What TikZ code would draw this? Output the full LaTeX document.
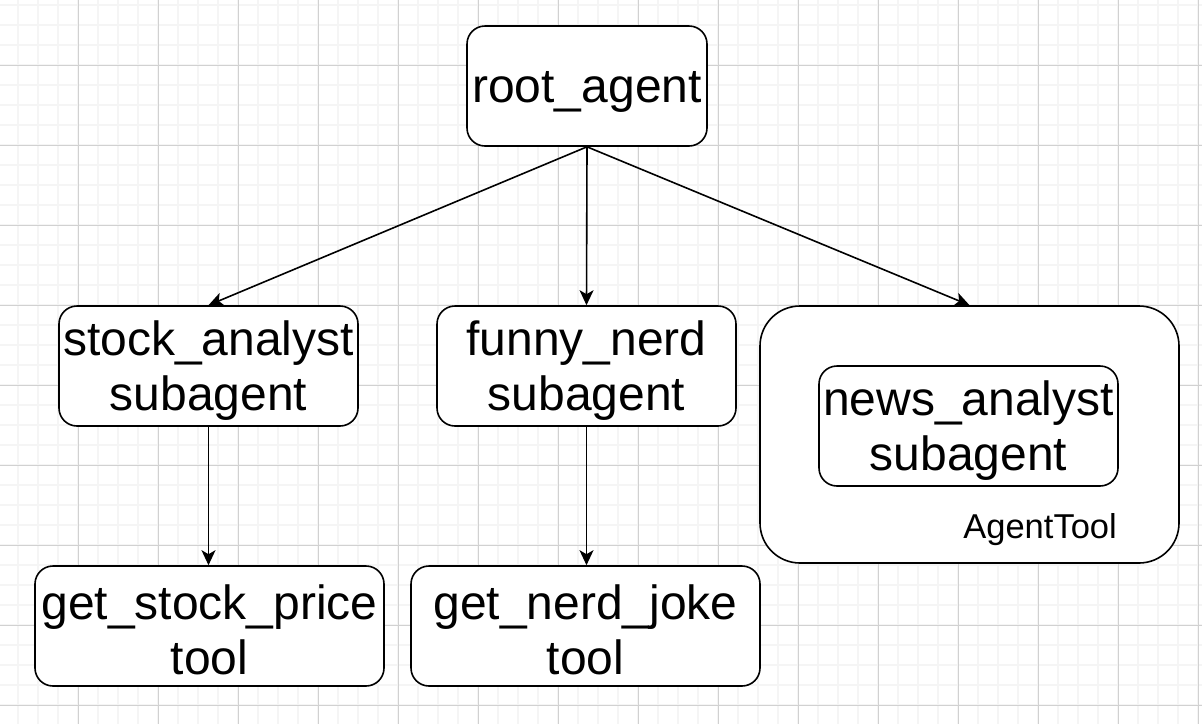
\documentclass[tikz,border=0pt]{standalone}
\usepackage{fontspec}
\setmainfont{Liberation Sans}
\usetikzlibrary{arrows.meta}
\newcommand{\boxstrut}{\rule{0pt}{43pt}}
\begin{document}
\begin{tikzpicture}[x=1pt,y=-1pt,
  box/.style={draw=black,line width=1.6pt,rounded corners=18pt,fill=white,
    inner sep=0pt,align=center,font=\fontsize{48}{55}\selectfont},
  conn/.style={line width=1.6pt,-{Stealth[length=15pt,width=14pt,inset=4pt]}},
  minorgrid/.style={draw=black!4,line width=1.2pt},
  majorgrid/.style={draw=black!18,line width=1pt}]
\useasboundingbox (0,0) rectangle (1202,724);
\fill[white] (0,0) rectangle (1202,724);
% grid
\foreach \x in {18,38,...,1202} \draw[minorgrid] (\x,0) -- (\x,724);
\foreach \y in {5,25,...,724} \draw[minorgrid] (0,\y) -- (1202,\y);
\foreach \x in {78,158,...,1202} \draw[majorgrid] (\x,0) -- (\x,724);
\foreach \y in {65,145,...,724} \draw[majorgrid] (0,\y) -- (1202,\y);
% container
\node[box,rounded corners=40pt,minimum width=419pt,minimum height=257pt] (cont) at (969.5,434.5) {};
\node[anchor=base east,inner sep=0pt,font=\fontsize{34.5}{40}\selectfont] (lbl) at (1117,538) {AgentTool};
% nodes
\node[box,minimum width=240pt,minimum height=120pt] (root) at (587,86) {\boxstrut root\_agent};
\node[box,minimum width=299pt,minimum height=120pt] (stock) at (208.5,366) {\boxstrut stock\_analyst\\subagent};
\node[box,minimum width=299pt,minimum height=120pt] (funny) at (586.5,366) {\boxstrut funny\_nerd\\subagent};
\node[box,minimum width=299pt,minimum height=120pt] (news) at (968.5,426) {\boxstrut news\_analyst\\subagent};
\node[box,minimum width=349pt,minimum height=120pt] (gsp) at (209.5,626) {\boxstrut get\_stock\_price\\tool};
\node[box,minimum width=349pt,minimum height=120pt] (gnj) at (585.5,626) {\boxstrut get\_nerd\_joke\\tool};
% connectors
\draw[conn] (root.south) -- (stock.north);
\draw[conn] (root.south) -- (funny.north);
\draw[conn] (root.south) -- (cont.north);
\draw[conn] (stock.south) -- (stock.south |- gsp.north);
\draw[conn] (funny.south) -- (funny.south |- gnj.north);
\end{tikzpicture}
\end{document}
